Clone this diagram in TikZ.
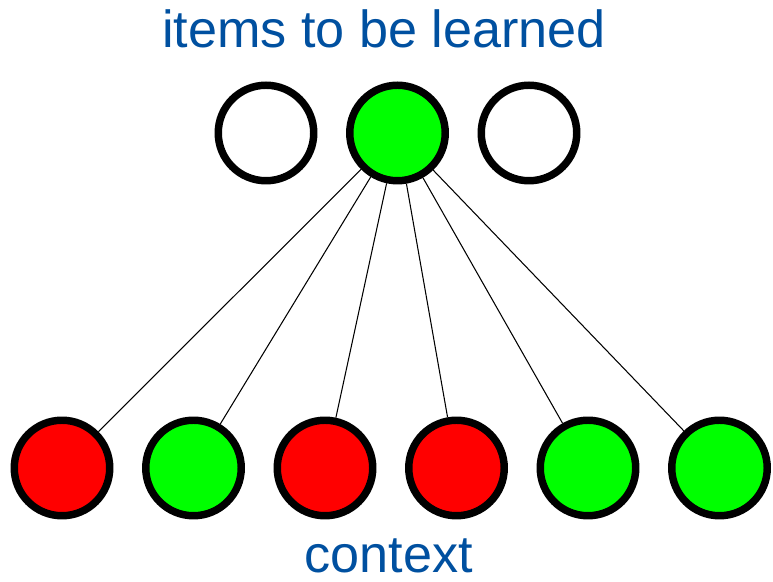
\documentclass[tikz,border=0pt]{standalone}
\usepackage{fontspec}
\setmainfont{Liberation Sans}
\usepackage{tikz}
\definecolor{labelblue}{RGB}{0,80,160}
\definecolor{onegreen}{RGB}{0,255,0}
\definecolor{offred}{RGB}{255,0,0}
\tikzset{unit/.style={circle,draw=black,line width=4.25pt,minimum size=1.91cm,inner sep=0pt},
 on/.style={unit,fill=onegreen},off/.style={unit,fill=offred},blank/.style={unit,fill=white},
 link/.style={line width=.6pt},title/.style={text=labelblue,font=\fontsize{29.7}{34}\selectfont,anchor=base}}

\begin{document}
\begin{tikzpicture}
\useasboundingbox (0,0) rectangle (15.46,11.64);
% items
\node[blank] (i1) at (5.32,8.98){};
\node[on] (i2) at (7.95,8.98){};
\node[blank] (i3) at (10.58,8.98){};
% context units
\foreach \k/\s in {1/off,2/on,3/off,4/off,5/on,6/on}
 \node[\s] (c\k) at ({1.24+2.63*(\k-1)},2.28){};
\foreach \k in {1,...,6}
 \draw[link] (i2)--(c\k);
\node[title] (top) at (7.68,10.68){items to be learned};
\node[title] (bot) at (7.77,0.18){context};
\end{tikzpicture}
\end{document}
